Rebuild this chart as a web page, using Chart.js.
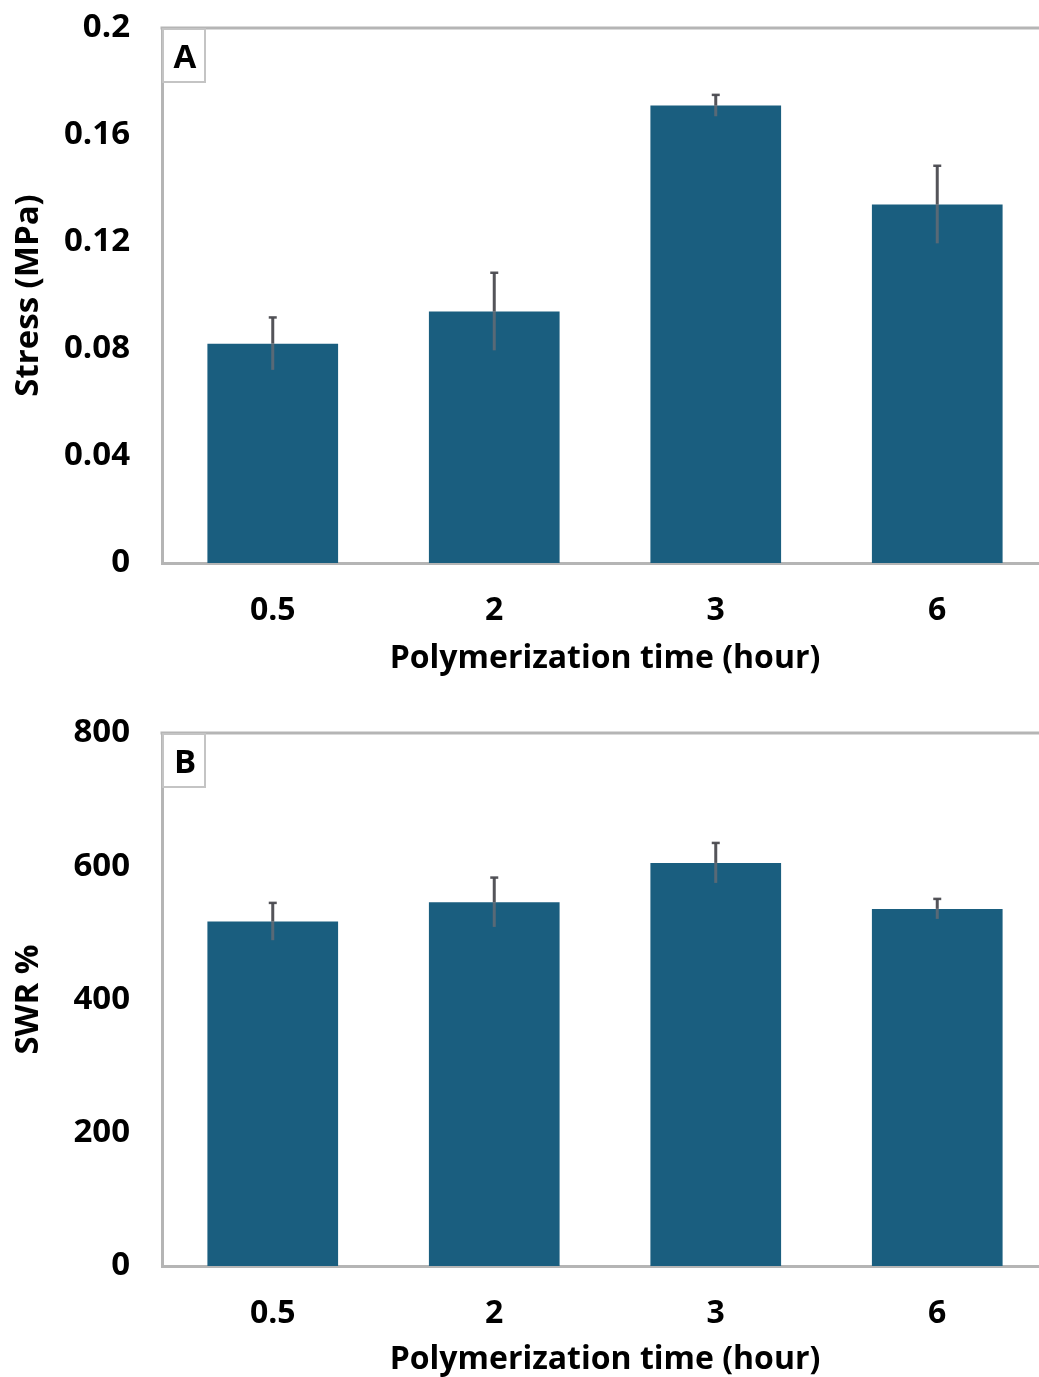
<!DOCTYPE html>
<html>
<head>
<meta charset="utf-8">
<script src="https://cdn.jsdelivr.net/npm/chart.js@4.4.1/dist/chart.umd.min.js"></script>
<style>
  html, body { margin: 0; padding: 0; background: #fff; overflow: hidden; width: 1039px; height: 1377px; }
  .wrap { position: absolute; left: 0; }
</style>
</head>
<body>
<div class="wrap" style="top:0px"><canvas id="chartA" width="1048" height="690"></canvas></div>
<div class="wrap" style="top:705px"><canvas id="chartB" width="1048" height="686"></canvas></div>
<script>
const categories = ['0.5', '2', '3', '6'];
const stressValues = [0.082, 0.094, 0.171, 0.134];
const stressErrors = [0.0098, 0.0145, 0.004, 0.0145];
const swrValues = [517, 546, 605, 536];
const swrErrors = [28, 37, 30, 15];
const stressTicks = [0, 0.04, 0.08, 0.12, 0.16, 0.2];
const stressTickLabels = ['0', '0.04', '0.08', '0.12', '0.16', '0.2'];
const swrTicks = [0, 200, 400, 600, 800];
const swrTickLabels = ['0', '200', '400', '600', '800'];

const FONT = "'Open Sans', 'Liberation Sans', Arial, sans-serif";
const BAR_COLOR = '#1a5e7f';
const FRAME_COLOR = '#b5b5b5';

function errorBarPlugin(errors) {
  return {
    id: 'errbars',
    afterDatasetsDraw(chart) {
      const ctx = chart.ctx;
      const xs = chart.scales.x, ys = chart.scales.y;
      const vals = chart.data.datasets[0].data;
      ctx.save();
      vals.forEach((v, i) => {
        const x = xs.getPixelForValue(i);
        const yT = ys.getPixelForValue(v + errors[i]);
        const yM = ys.getPixelForValue(v);
        const yB = ys.getPixelForValue(v - errors[i]);
        ctx.lineWidth = 3;
        ctx.strokeStyle = 'rgba(75,75,80,0.95)';
        ctx.beginPath(); ctx.moveTo(x, yT); ctx.lineTo(x, yM); ctx.stroke();
        ctx.strokeStyle = 'rgba(110,110,115,0.75)';
        ctx.beginPath(); ctx.moveTo(x, yM); ctx.lineTo(x, yB); ctx.stroke();
        ctx.strokeStyle = 'rgba(75,75,80,0.95)';
        ctx.lineWidth = 2.5;
        ctx.beginPath(); ctx.moveTo(x - 4, yT); ctx.lineTo(x + 4, yT); ctx.stroke();
      });
      ctx.restore();
    }
  };
}

function framePlugin(letter) {
  return {
    id: 'frame',
    afterDraw(chart) {
      const ctx = chart.ctx;
      const a = chart.chartArea;
      ctx.save();
      ctx.strokeStyle = FRAME_COLOR;
      ctx.lineWidth = 3;
      ctx.beginPath();
      ctx.moveTo(a.left - 1.5, a.top);
      ctx.lineTo(chart.width, a.top);
      ctx.stroke();
      ctx.lineWidth = 2;
      ctx.strokeStyle = '#c4c4c4';
      ctx.fillStyle = '#ffffff';
      ctx.fillRect(a.left + 1, a.top + 1, 42, 53);
      ctx.strokeRect(a.left + 1, a.top + 1, 42, 53);
      ctx.fillStyle = '#000';
      ctx.font = "bold 33px " + FONT;
      ctx.textAlign = 'center';
      ctx.textBaseline = 'middle';
      ctx.fillText(letter, a.left + 23, a.top + 31);
      ctx.restore();
    }
  };
}

function makeChart(id, values, errors, ticks, tickLabels, yTitle, letter, padTop, xHeight) {
  return new Chart(document.getElementById(id), {
    type: 'bar',
    data: {
      labels: categories,
      datasets: [{
        data: values,
        backgroundColor: BAR_COLOR,
        borderWidth: 0,
        categoryPercentage: 1.0,
        barPercentage: 0.59
      }]
    },
    options: {
      responsive: false,
      animation: false,
      layout: { padding: { top: padTop, right: 0, bottom: 0, left: 0 } },
      plugins: { legend: { display: false }, tooltip: { enabled: false } },
      scales: {
        x: {
          grid: { display: false, drawTicks: false },
          border: { display: true, color: FRAME_COLOR, width: 3 },
          ticks: { color: '#000', font: { family: FONT, size: 32, weight: 'bold' }, padding: 29 },
          title: { display: true, text: 'Polymerization time (hour)', color: '#000',
                   font: { family: FONT, size: 32, weight: 'bold' }, padding: { top: 0, bottom: 12 } },
          afterFit(scale) { scale.height = xHeight; scale.paddingLeft = 0; scale.paddingRight = 0; }
        },
        y: {
          min: ticks[0], max: ticks[ticks.length - 1],
          grid: { display: false, drawTicks: false },
          border: { display: true, color: FRAME_COLOR, width: 3 },
          afterBuildTicks(scale) { scale.ticks = ticks.map(v => ({ value: v })); },
          ticks: {
            color: '#000', font: { family: FONT, size: 33, weight: 'bold' }, padding: 32,
            callback(value) { const i = ticks.indexOf(value); return i >= 0 ? tickLabels[i] : ''; }
          },
          title: { display: true, text: yTitle, color: '#000',
                   font: { family: FONT, size: 33, weight: 'bold' }, padding: { top: 9, bottom: 0 } },
          afterFit(scale) { scale.width = 162; scale.paddingTop = 0; scale.paddingBottom = 0; }
        }
      }
    },
    plugins: [errorBarPlugin(errors), framePlugin(letter)]
  });
}

makeChart('chartA', stressValues, stressErrors, stressTicks, stressTickLabels, 'Stress (MPa)', 'A', 28, 127);
makeChart('chartB', swrValues, swrErrors, swrTicks, swrTickLabels, 'SWR %', 'B', 28, 125);
</script>
</body>
</html>
